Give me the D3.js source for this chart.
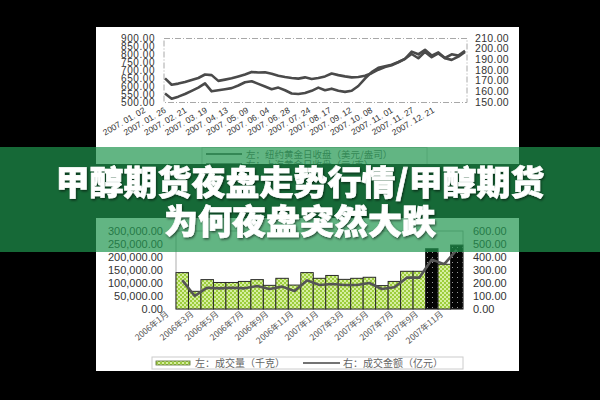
<!DOCTYPE html>
<html><head><meta charset="utf-8">
<script src="https://cdn.jsdelivr.net/npm/d3@7/dist/d3.min.js"></script>
<style>html,body{margin:0;padding:0;background:#000;}svg{display:block;}</style>
</head><body>
<script>
// ---------- DATA ----------
const topDates = ["2007. 01. 02","2007. 01. 26","2007. 02. 21","2007. 03. 19","2007. 04. 13","2007. 05. 09","2007. 06. 04","2007. 06. 28","2007. 07. 24","2007. 08. 17","2007. 09. 12","2007. 10. 08","2007. 11. 01","2007. 11. 27","2007. 12. 21"];
const nyGold = [648,608,615,625,638,650,672,668,632,640,648,660,672,688,684,686,676,664,656,650,646,654,644,650,660,678,668,660,654,656,664,680,702,718,730,748,770,815,798,826,790,810,775,798,790,820];
const shGold = [158,153,155,157.5,160.5,163.5,167.5,160,161,162,163,165.5,168.5,169.5,167,164.5,162,163.5,161,158,157.5,158.5,160.5,163.5,161,162.5,160.5,159.5,160.5,165,172,178,182,183.5,185,187.5,190.5,195,191,197,192,195.5,191,189.5,192.5,197];
const topLeftTicks = [500,550,600,650,700,750,800,850,900];
const topRightTicks = [150,160,170,180,190,200,210];

const months = ["2006年1月","2006年2月","2006年3月","2006年4月","2006年5月","2006年6月","2006年7月","2006年8月","2006年9月","2006年10月","2006年11月","2006年12月","2007年1月","2007年2月","2007年3月","2007年4月","2007年5月","2007年6月","2007年7月","2007年8月","2007年9月","2007年10月","2007年11月"];
const volume = [140000,68000,113000,102000,102000,106000,113000,91000,118000,92000,140000,118000,129000,114000,118000,122000,90000,106000,145000,145000,232000,172000,246000];
const amount = [222,100,164,159,164,159,177,154,172,138,220,185,192,185,185,200,154,167,241,241,380,345,455];
const darkMonths = ["2007年9月","2007年11月"];
const monthLabels = ["2006年1月","2006年3月","2006年5月","2006年7月","2006年9月","2006年11月","2007年1月","2007年3月","2007年5月","2007年7月","2007年9月","2007年11月"];
const botLeftTicks = [0,50000,100000,150000,200000,250000,300000];
const botRightTicks = [0,100,200,300,400,500,600];

const topLegend = ["左：纽约黄金日收盘（美元/盎司）","右：上海黄金日收盘（元/克）"];
const botLegend = ["左：成交量（千克）","右：成交金额（亿元）"];
const title = ["甲醇期货夜盘走势行情/甲醇期货","为何夜盘突然大跌"];

// ---------- DRAW ----------
const W=600,H=400;
const svg=d3.select("body").append("svg").attr("width",W).attr("height",H);
const defs=svg.append("defs");
const gp=defs.append("pattern").attr("id","gpat").attr("width",4).attr("height",4).attr("patternUnits","userSpaceOnUse");
gp.append("rect").attr("width",4).attr("height",4).attr("fill","#9dcd3c");
gp.append("rect").attr("x",0).attr("y",0).attr("width",2).attr("height",2).attr("fill","#d6efa0");
gp.append("rect").attr("x",2).attr("y",2).attr("width",2).attr("height",2).attr("fill","#d6efa0");
const bp=defs.append("pattern").attr("id","bpat").attr("width",5).attr("height",5).attr("patternUnits","userSpaceOnUse");
bp.append("rect").attr("width",5).attr("height",5).attr("fill","#050505");
bp.append("rect").attr("x",2).attr("y",2).attr("width",1).attr("height",1).attr("fill","#9a9a9a");
const flt=defs.append("filter").attr("id","sh").attr("x","-10%").attr("y","-30%").attr("width","120%").attr("height","160%");
flt.append("feDropShadow").attr("dx",1).attr("dy",1.5).attr("stdDeviation",1.2).attr("flood-color","#000").attr("flood-opacity",0.55);

svg.append("rect").attr("width",W).attr("height",H).attr("fill","#000");
svg.append("rect").attr("x",96).attr("y",27).attr("width",423).attr("height",344).attr("fill","#fff");

const numFont="'Liberation Sans', Arial, sans-serif";
const cjk="'Noto Sans CJK SC', sans-serif";

// ----- top chart -----
const tx=d3.scaleLinear().domain([0,nyGold.length-1]).range([165,465]);
const tyL=d3.scaleLinear().domain([500,900]).range([102,38]);
const tyR=d3.scaleLinear().domain([150,210]).range([102,38]);
const topG=svg.append("g");
topG.append("rect").attr("x",164).attr("y",38.5).attr("width",303).attr("height",64)
  .attr("fill","none").attr("stroke","#a8a8a8").attr("stroke-dasharray","6,2,1,2");
topG.selectAll(".tl").data(topLeftTicks).join("text").attr("x",155).attr("y",d=>tyL(d)+3.6)
  .attr("text-anchor","end").attr("font-family",numFont).attr("font-size",10).attr("letter-spacing",0.55).attr("fill","#333").text(d=>d3.format(".2f")(d));
topG.selectAll(".tr").data(topRightTicks).join("text").attr("x",475).attr("y",d=>tyR(d)+3.8)
  .attr("text-anchor","start").attr("font-family",numFont).attr("font-size",10.5).attr("letter-spacing",0.3).attr("fill","#333").text(d=>d3.format(".2f")(d));
const lineL=d3.line().x((d,i)=>tx(i)).y(d=>tyL(d));
const lineR=d3.line().x((d,i)=>tx(i)).y(d=>tyR(d));
topG.append("path").attr("d",lineR(shGold)).attr("fill","none").attr("stroke","#4a4a4a").attr("stroke-width",2.6).attr("stroke-linejoin","round");
topG.append("path").attr("d",lineL(nyGold)).attr("fill","none").attr("stroke","#4a4a4a").attr("stroke-width",2.6).attr("stroke-linejoin","round");
const tdx=d3.scalePoint().domain(topDates).range([146,435]);
topG.selectAll(".td").data(topDates).join("text")
  .attr("transform",d=>`translate(${tdx(d)},112) rotate(-30)`).attr("text-anchor","end")
  .attr("font-family",numFont).attr("font-size",8.5).attr("fill","#333").text(d=>d);
// top legend
const tlg=topG.append("g");
tlg.append("rect").attr("x",202).attr("y",147.5).attr("width",225).attr("height",26).attr("fill","#fff").attr("stroke","#ccc");
tlg.selectAll("line").data(topLegend).join("line").attr("x1",206).attr("x2",242).attr("y1",(d,i)=>154+i*10).attr("y2",(d,i)=>154+i*10).attr("stroke","#333").attr("stroke-width",1.5);
tlg.selectAll("text").data(topLegend).join("text").attr("x",246).attr("y",(d,i)=>157.5+i*10)
  .attr("font-family",cjk).attr("font-size",9.5).attr("fill","#666").text(d=>d);

// ----- bottom chart -----
const bx=d3.scaleBand().domain(months).range([176,463]).padding(0);
const byL=d3.scaleLinear().domain([0,300000]).range([309,231]);
const byR=d3.scaleLinear().domain([0,600]).range([309,231]);
const botG=svg.append("g");
botG.append("rect").attr("x",176).attr("y",231).attr("width",287).attr("height",78).attr("fill","none").attr("stroke","#999").attr("stroke-width",0.8);
botG.selectAll(".bar").data(months).join("rect")
  .attr("x",d=>bx(d)).attr("width",bx.bandwidth())
  .attr("y",(d,i)=>byL(volume[i])).attr("height",(d,i)=>byL(0)-byL(volume[i]))
  .attr("fill",d=>darkMonths.includes(d)?"url(#bpat)":"url(#gpat)")
  .attr("stroke","#2a2a2a").attr("stroke-width",1);
const lineB=d3.line().x((d,i)=>bx(months[i])+bx.bandwidth()/2).y(d=>byR(d));
botG.append("path").attr("d",lineB(amount)).attr("fill","none").attr("stroke","#555").attr("stroke-width",2.6).attr("stroke-linejoin","round");
botG.selectAll(".bl").data(botLeftTicks).join("text").attr("x",163).attr("y",d=>byL(d)+4)
  .attr("text-anchor","end").attr("font-family",numFont).attr("font-size",11).attr("fill","#333").text(d=>d3.format(",.2f")(d));
botG.selectAll(".br").data(botRightTicks).join("text").attr("x",473).attr("y",d=>byR(d)+4)
  .attr("text-anchor","start").attr("font-family",numFont).attr("font-size",11).attr("fill","#333").text(d=>d3.format(".2f")(d));
botG.selectAll(".ml").data(monthLabels).join("text")
  .attr("transform",d=>`translate(${bx(d)+bx.bandwidth()/2-13},315) rotate(-40)`).attr("text-anchor","end")
  .attr("font-family",cjk).attr("font-size",8.5).attr("fill","#555").text(d=>d);
// bottom legend
const blg=botG.append("g");
blg.append("rect").attr("x",152).attr("y",357).attr("width",311).attr("height",12).attr("fill","#fff").attr("stroke","#ccc");
blg.append("rect").attr("x",156).attr("y",361).attr("width",34).attr("height",4).attr("fill","url(#gpat)").attr("stroke","#556b2f").attr("stroke-width",0.8);
blg.append("text").attr("x",195).attr("y",366.5).attr("font-family",cjk).attr("font-size",10).attr("fill","#666").text(botLegend[0]);
blg.append("line").attr("x1",303).attr("x2",340).attr("y1",363).attr("y2",363).attr("stroke","#444").attr("stroke-width",1.5);
blg.append("text").attr("x",343).attr("y",366.5).attr("font-family",cjk).attr("font-size",10).attr("fill","#666").text(botLegend[1]);

// ----- banner -----
svg.append("rect").attr("x",0).attr("y",147).attr("width",W).attr("height",105).attr("fill","rgb(31,150,79)").attr("fill-opacity",0.7);
svg.append("rect").attr("x",0).attr("y",164).attr("width",W).attr("height",54).attr("fill","#166937");
svg.selectAll(".ttl").data(title).join("text").attr("x",300).attr("y",(d,i)=>195+i*39)
  .attr("text-anchor","middle").attr("font-family",cjk).attr("font-weight",900).attr("font-size",34)
  .attr("fill","#fff").attr("stroke","#fff").attr("stroke-width",0.6).attr("filter","url(#sh)").text(d=>d);
</script>
</body></html>
